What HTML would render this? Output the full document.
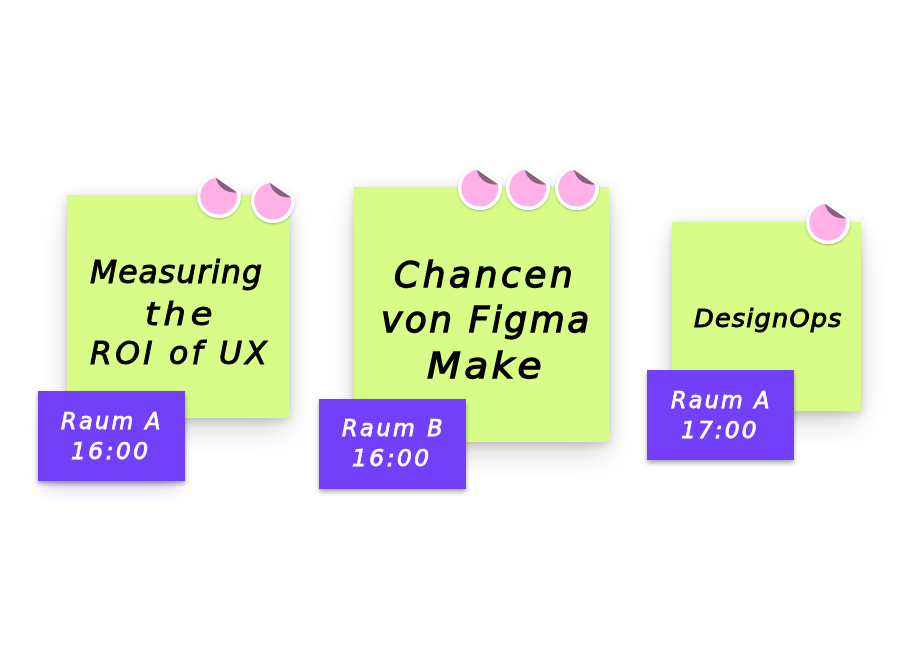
<!DOCTYPE html>
<html lang="de"><head><meta charset="utf-8">
<title>Session-Board</title>
<style>
html,body{margin:0;padding:0;}
body{width:900px;height:645px;background:#fff;position:relative;overflow:hidden;font-family:"DejaVu Sans","Liberation Sans",sans-serif;}
.sticky{position:absolute;background:#d7fd88;box-shadow:0 0 16px rgba(0,0,0,.07),0 3px 8px rgba(0,0,0,.11),0 14px 28px -4px rgba(0,0,0,.17);}
.tag{position:absolute;background:#7140f8;box-shadow:0 2.5px 4.5px rgba(0,0,0,.34);}
.tag.glow{box-shadow:0 2.5px 4.5px rgba(0,0,0,.34),0 16px 16px -8px rgba(113,64,248,.24);}
.l{will-change:transform;position:absolute;white-space:nowrap;font-style:italic;line-height:1;color:#000;-webkit-text-stroke:.8px #000;transform-origin:0 50%;}
.tag .l{color:#fff;-webkit-text-stroke:.75px #fff;}
svg.st{position:absolute;width:52px;height:52px;overflow:visible;}
</style></head><body>

<div class="sticky" style="left:66.5px;top:195.2px;width:222.6px;height:222.5px;">
    <div class="l" style="left:23.50px;top:61.75px;font-size:31.5px;letter-spacing:1.0px;-webkit-text-stroke-width:1.0px;">Measuring</div>
    <div class="l" style="left:78.10px;top:103.75px;font-size:31.5px;letter-spacing:4.27px;-webkit-text-stroke-width:1.0px;transform:scaleX(1.12);">the</div>
    <div class="l" style="left:23.50px;top:142.55px;font-size:31.5px;letter-spacing:3.24px;-webkit-text-stroke-width:1.0px;">ROI of UX</div>
</div>
<div class="sticky" style="left:354px;top:186.9px;width:255.2px;height:255px;">
    <div class="l" style="left:40.00px;top:70.34px;font-size:36px;letter-spacing:3.55px;-webkit-text-stroke-width:1.3px;">Chancen</div>
    <div class="l" style="left:27.00px;top:115.14px;font-size:36px;letter-spacing:2.5px;-webkit-text-stroke-width:1.3px;">von Figma</div>
    <div class="l" style="left:73.00px;top:161.54px;font-size:36px;letter-spacing:3.0px;-webkit-text-stroke-width:1.3px;transform:scaleX(1.09);">Make</div>
</div>
<div class="sticky" style="left:672px;top:222.1px;width:189.1px;height:188.8px;">
    <div class="l" style="left:21.80px;top:83.84px;font-size:25.6px;letter-spacing:1.17px;-webkit-text-stroke-width:1.0px;">DesignOps</div>
</div>
<div class="tag glow" style="left:38px;top:391px;width:147.1px;height:89.9px;">
    <div class="l" style="left:23.00px;top:19.13px;font-size:22.3px;letter-spacing:2.42px;">Raum A</div>
    <div class="l" style="left:33.00px;top:48.29px;font-size:23.3px;letter-spacing:2.5px;">16:00</div>
</div>
<div class="tag" style="left:319px;top:398.5px;width:147px;height:90px;">
    <div class="l" style="left:23.00px;top:18.63px;font-size:22.3px;letter-spacing:2.61px;">Raum B</div>
    <div class="l" style="left:32.50px;top:47.79px;font-size:23.3px;letter-spacing:2.5px;">16:00</div>
</div>
<div class="tag" style="left:647px;top:370px;width:147px;height:90px;">
    <div class="l" style="left:23.60px;top:18.63px;font-size:22.3px;letter-spacing:2.24px;">Raum A</div>
    <div class="l" style="left:34.00px;top:48.09px;font-size:23.3px;letter-spacing:2.1px;">17:00</div>
</div>

<svg width="0" height="0" style="position:absolute"><defs>
<filter id="sh" x="-30%" y="-30%" width="160%" height="160%"><feDropShadow dx="0" dy="1" stdDeviation="1.2" flood-color="#000" flood-opacity=".28"/></filter>
<g id="stk">
  <path filter="url(#sh)" d="M-2,-21.9 A22,22 0 1,0 21.6,-4 Z" fill="#fff"/>
  <path d="M-3.2,-18.3 A18.5,18.5 0 1,0 17.9,-3.7 Z" fill="#ffb0e7"/>
  <path d="M-3.2,-18.3 L17.9,-3.7 A18.5,18.5 0 0,1 -3.2,-18.3 Z" fill="#866380"/>
</g></defs></svg>

<svg class="st" style="left:192.7px;top:170.4px" viewBox="-26 -26 52 52"><use href="#stk"/></svg>
<svg class="st" style="left:247.1px;top:174.6px" viewBox="-26 -26 52 52"><use href="#stk"/></svg>
<svg class="st" style="left:453.9px;top:162.1px" viewBox="-26 -26 52 52"><use href="#stk"/></svg>
<svg class="st" style="left:502.1px;top:162.1px" viewBox="-26 -26 52 52"><use href="#stk"/></svg>
<svg class="st" style="left:551.1px;top:162.1px" viewBox="-26 -26 52 52"><use href="#stk"/></svg>
<svg class="st" style="left:801.5px;top:196.1px" viewBox="-26 -26 52 52"><use href="#stk"/></svg>
</body></html>
